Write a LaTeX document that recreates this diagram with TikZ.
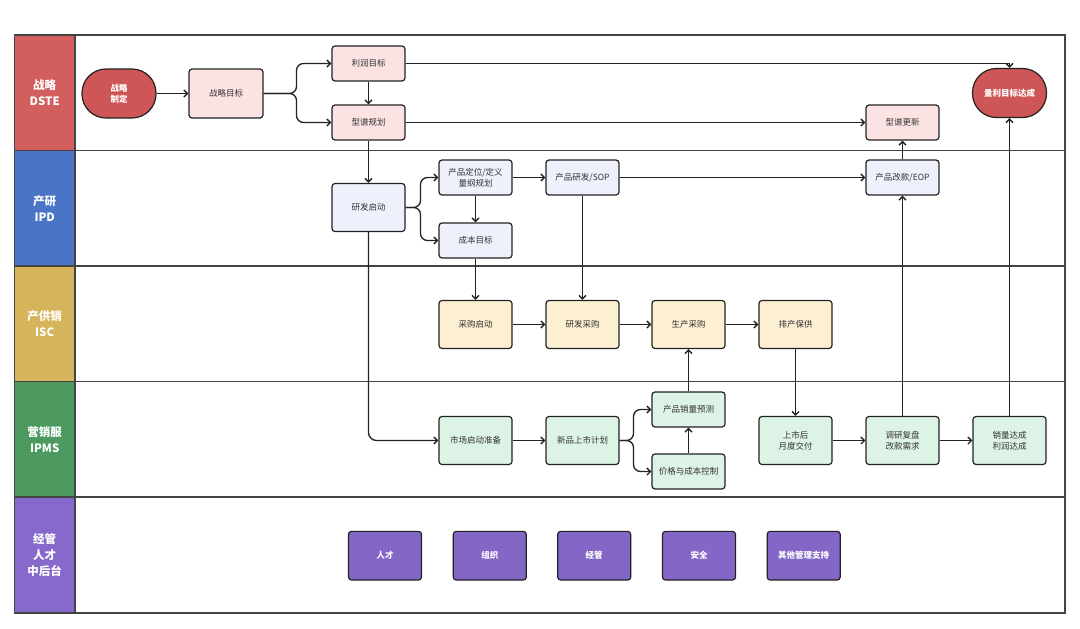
\documentclass[tikz,border=0pt]{standalone}
\usepackage{fontspec}
\setmainfont{Noto Sans CJK SC}
\usetikzlibrary{arrows.meta}
\definecolor{laneRed}{HTML}{D35E5E}
\definecolor{laneBlue}{HTML}{4A74C6}
\definecolor{laneYellow}{HTML}{D6B45B}
\definecolor{laneGreen}{HTML}{4C9A60}
\definecolor{lanePurple}{HTML}{8769CB}
\definecolor{fillRed}{HTML}{CF5656}
\definecolor{fillPink}{HTML}{FCE3E3}
\definecolor{fillBlue}{HTML}{EEF1FC}
\definecolor{fillYellow}{HTML}{FDEFD1}
\definecolor{fillGreen}{HTML}{DDF3E5}
\definecolor{fillPurple}{HTML}{8466C7}
\definecolor{txt}{HTML}{333333}
\definecolor{edge}{HTML}{222222}
\definecolor{frame}{HTML}{444444}
\begin{document}
\begin{tikzpicture}[x=1pt,y=-1pt,
  box/.style={draw=edge, line width=1.2pt, rounded corners=3pt, minimum width=73pt,
    minimum height=35pt, align=center, text=txt, inner sep=1pt,
    font=\fontsize{8.5}{11}\selectfont},
  tall/.style={minimum height=48pt},
  pinkbox/.style={box, fill=fillPink},
  bluebox/.style={box, fill=fillBlue},
  yelbox/.style={box, fill=fillYellow, tall},
  grnbox/.style={box, fill=fillGreen},
  purbox/.style={box, fill=fillPurple, text=white, minimum height=48.7pt,
    font=\bfseries\fontsize{8.5}{11}\selectfont},
  stadium/.style={draw=edge, line width=1.2pt, fill=fillRed, text=white,
    rounded corners=24pt, minimum width=74pt, minimum height=49pt, align=center,
    inner sep=1pt, font=\bfseries\fontsize{8.5}{11}\selectfont},
  lanelabel/.style={text=white, align=center, font=\bfseries\fontsize{11.5}{16}\selectfont},
  arr/.style={-{Straight Barb[length=3.5pt,width=7pt]}, line width=1.35pt, draw=edge},
  conn/.style={line width=1.35pt, draw=edge}
]
\useasboundingbox (0,0) rectangle (1080,629);
% lane label backgrounds
\fill[laneRed]    (14.5,35)   rectangle (75,150.5);
\fill[laneBlue]   (14.5,150.5) rectangle (75,266);
\fill[laneYellow] (14.5,266)  rectangle (75,381.5);
\fill[laneGreen]  (14.5,381.5) rectangle (75,497);
\fill[lanePurple] (14.5,497)  rectangle (75,613);
% frame and lane lines
\draw[frame, line width=1.5pt] (14.5,35) rectangle (1065,613);
\foreach \yy in {150.5,266,381.5,497} \draw[frame, line width=1.5pt] (14.5,\yy) -- (1065,\yy);
\draw[frame, line width=1.5pt] (75,35) -- (75,613);
% lane labels
\node[lanelabel] (l1) at (44.7,92.7) {战略\\DSTE};
\node[lanelabel] (l2) at (44.7,208.2) {产研\\IPD};
\node[lanelabel] (l3) at (44.7,323.7) {产供销\\ISC};
\node[lanelabel] (l4) at (44.7,439.2) {营销服\\IPMS};
\node[lanelabel] (l5) at (44.7,555) {经管\\人才\\中后台};
% DSTE
\node[stadium] (zl) at (119,93.5) {战略\\制定};
\node[pinkbox, minimum width=74pt, minimum height=49pt] (zm) at (226,93.5) {战略目标};
\node[pinkbox] (lr) at (368.5,63.5) {利润目标};
\node[pinkbox] (xp) at (368.5,122.5) {型谱规划};
\node[pinkbox] (xu) at (902.5,122.5) {型谱更新};
\node[stadium] (ly) at (1009.5,93) {量利目标达成};
% IPD
\node[bluebox, tall] (yf) at (368.5,207.5) {研发启动};
\node[bluebox] (cd) at (475.5,177.5) {产品定位/定义\\量纲规划};
\node[bluebox] (cb) at (475.5,240.5) {成本目标};
\node[bluebox] (sop) at (582.5,177.5) {产品研发/SOP};
\node[bluebox] (eop) at (902.5,177.5) {产品改款/EOP};
% ISC
\node[yelbox] (cg) at (475.5,324.5) {采购启动};
\node[yelbox] (yc) at (582.5,324.5) {研发采购};
\node[yelbox] (sc) at (688.5,324.5) {生产采购};
\node[yelbox] (pc) at (795.5,324.5) {排产保供};
% IPMS
\node[grnbox, tall] (sz) at (475.5,440.5) {市场启动准备};
\node[grnbox, tall] (xs) at (582.5,440.5) {新品上市计划};
\node[grnbox] (yc2) at (688.5,409.5) {产品销量预测};
\node[grnbox] (jg) at (688.5,471.5) {价格与成本控制};
\node[grnbox, tall] (ss) at (795.5,440.5) {上市后\\月度交付};
\node[grnbox, tall] (dy) at (902.5,440.5) {调研复盘\\改款需求};
\node[grnbox, tall] (xl) at (1009.5,440.5) {销量达成\\利润达成};
% support
\node[purbox] (p1) at (385,555.7) {人才};
\node[purbox] (p2) at (489.8,555.7) {组织};
\node[purbox] (p3) at (594.2,555.7) {经管};
\node[purbox] (p4) at (699,555.7) {安全};
\node[purbox] (p5) at (803.7,555.7) {其他管理支持};
% connectors
\draw[arr] (zl) -- (zm);
\coordinate (f1) at (296.5,93.5);
\draw[arr, rounded corners=7pt] (zm.east) -- (f1) |- (lr.west);
\draw[arr, rounded corners=7pt] (zm.east) -- (f1) |- (xp.west);
\draw[arr] (lr) -- (xp);
\draw[arr] (lr.east) -| (ly.north);
\draw[arr] (xp.east) -- (xu.west);
\draw[arr] (xp) -- (yf);
\coordinate (f2) at (420.5,207.5);
\draw[arr, rounded corners=7pt] (yf.east) -- (f2) |- (cd.west);
\draw[arr, rounded corners=7pt] (yf.east) -- (f2) |- (cb.west);
\draw[arr] (cd) -- (cb);
\draw[arr] (cd) -- (sop);
\draw[arr] (sop) -- (eop);
\draw[arr] (eop) -- (xu);
\draw[arr] (cb) -- (cg);
\draw[arr] (sop) -- (yc);
\draw[arr, rounded corners=8pt] (yf.south) |- (sz.west);
\draw[arr] (cg) -- (yc);
\draw[arr] (yc) -- (sc);
\draw[arr] (sc) -- (pc);
\draw[arr] (pc) -- (ss);
\draw[arr] (sz) -- (xs);
\coordinate (f3) at (633.5,440.5);
\draw[arr, rounded corners=7pt] (xs.east) -- (f3) |- (yc2.west);
\draw[arr, rounded corners=7pt] (xs.east) -- (f3) |- (jg.west);
\draw[arr] (jg) -- (yc2);
\draw[arr] (yc2) -- (sc);
\draw[arr] (ss) -- (dy);
\draw[arr] (dy) -- (xl);
\draw[arr] (dy) -- (eop);
\draw[arr] (xl) -- (ly);
\end{tikzpicture}
\end{document}
